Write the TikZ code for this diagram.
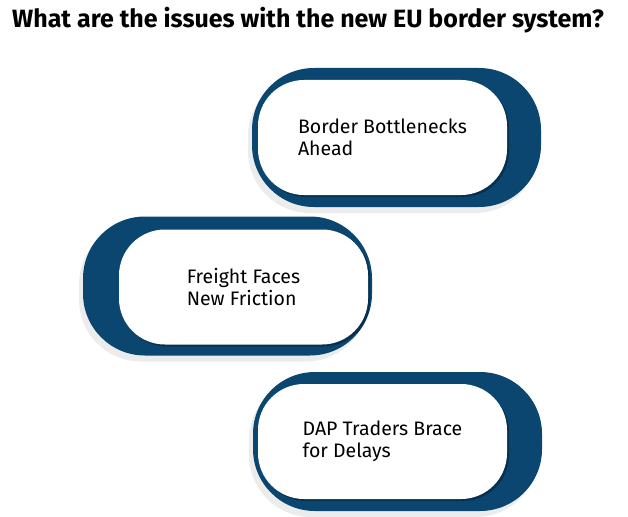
\documentclass[tikz,border=0pt]{standalone}
\usepackage{fontspec}
\setmainfont{Fira Sans}
\newfontfamily\titlefont{Fira Sans}
\usetikzlibrary{shadows}
\definecolor{borderblue}{HTML}{0A4670}

\begin{document}
\begin{tikzpicture}[x=1pt,y=-1pt,
	backpill/.style={rectangle, rounded corners=62pt, fill=borderblue,
	minimum width=289pt, minimum height=139pt,
	drop shadow={shadow xshift=-4pt, shadow yshift=-6pt, fill=black!25, opacity=.3}},
	issue/.style={rectangle, rounded corners=46pt, fill=white,
	minimum width=249pt, minimum height=115pt, align=left,
	font=\fontsize{19.5}{22}\selectfont,
	drop shadow={shadow xshift=2pt, shadow yshift=-2pt, fill=black, opacity=.3}}]
				\useasboundingbox (0,0) rectangle (628,516);
				\node (title) [anchor=base] at (308,28)
				{\titlefont\bfseries\fontsize{25}{28}\selectfont What are the issues with the new EU border system?};
				% top issue
				\node (b1) [backpill] at (396.5,137.5) {};
				\node (i1) [issue] at ([xshift=-14pt]b1.center)
				{Border Bottlenecks\\Ahead};
				% middle issue
				\node (b2) [backpill] at (227.5,286) {};
				\node (i2) [issue] at ([xshift=16pt,yshift=-1pt]b2.center)
				{Freight Faces\\New Friction};
				% bottom issue
				\node (b3) [backpill] at (397.5,441.5) {};
				\node (i3) [issue] at ([xshift=-15pt]b3.center)
				{DAP Traders Brace\\for Delays};
			\end{tikzpicture}
\end{document}
